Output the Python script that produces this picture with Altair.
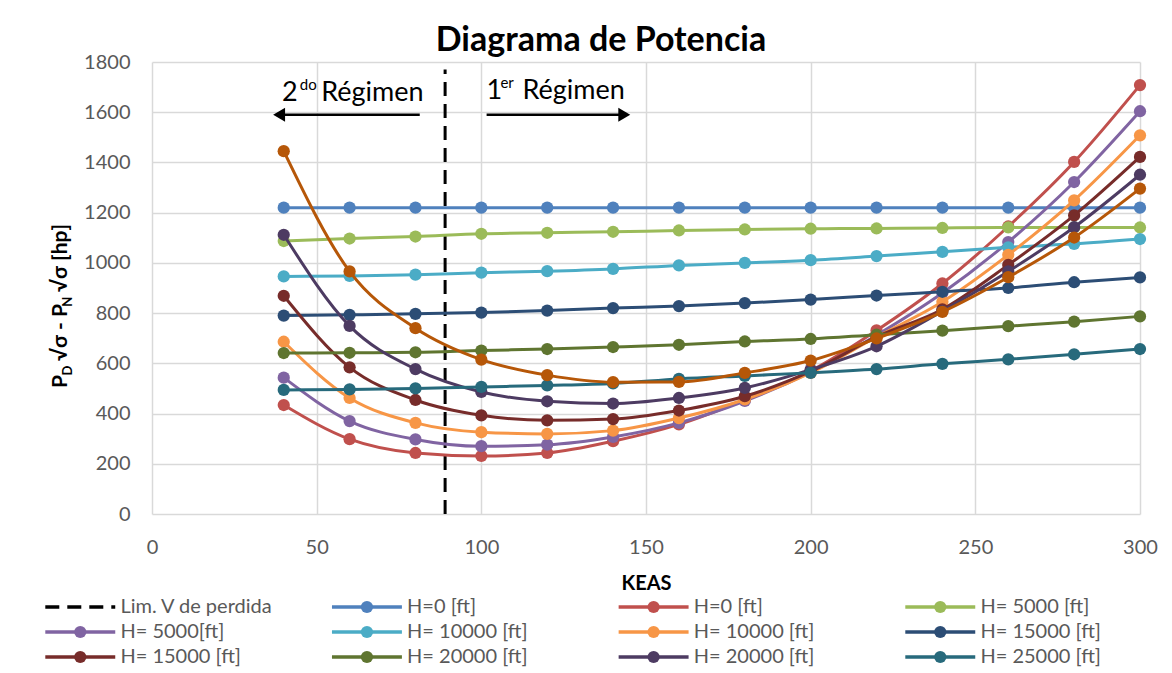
import altair as alt
import pandas as pd

# ---------------- data ----------------
KEAS = [40, 60, 80, 100, 120, 140, 160, 180, 200, 220, 240, 260, 280, 300]

# available power (nearly flat curves)
PA_H0 = [1220, 1220, 1220, 1220, 1220, 1220, 1220, 1220, 1220, 1220, 1220, 1220, 1220, 1220]
PA_H5000 = [1087, 1097, 1105, 1116, 1120, 1124, 1129, 1133, 1136, 1137, 1139, 1141, 1141, 1141]
PA_H10000 = [946, 948, 953, 961, 967, 976, 990, 1000, 1011, 1027, 1044, 1062, 1076, 1095]
PA_H15000 = [790, 793, 797, 802, 810, 820, 828, 840, 854, 870, 885, 900, 923, 942]
PA_H20000 = [641, 642, 644, 651, 657, 665, 674, 687, 697, 714, 730, 748, 766, 787]
PA_H25000 = [494, 496, 500, 506, 512, 520, 538, 550, 562, 577, 598, 616, 636, 657]

# required power (U-shaped curves)
PR_H0 = [434, 298, 243, 231, 243, 290, 357, 455, 570, 731, 918, 1145, 1402, 1708]
PR_H5000 = [543, 370, 297, 270, 276, 307, 363, 450, 565, 712, 880, 1083, 1322, 1604]
PR_H10000 = [686, 462, 363, 326, 319, 332, 382, 456, 562, 705, 845, 1032, 1249, 1508]
PR_H15000 = [869, 584, 454, 393, 373, 378, 412, 469, 568, 705, 815, 992, 1189, 1422]
PR_H20000 = [1112, 749, 577, 486, 449, 440, 462, 502, 575, 668, 808, 966, 1142, 1351]
PR_H25000 = [1445, 966, 740, 615, 553, 525, 526, 562, 611, 699, 805, 943, 1101, 1296]

SERIES_VALUES = [PA_H0, PR_H0, PA_H5000, PR_H5000, PA_H10000, PR_H10000,
                 PA_H15000, PR_H15000, PA_H20000, PR_H20000, PA_H25000, PR_H25000]
SERIES_LABELS = ["H=0 [ft]", "H=0 [ft]", "H= 5000 [ft]", "H= 5000[ft]",
                 "H= 10000 [ft]", "H= 10000 [ft]", "H= 15000 [ft]", "H= 15000 [ft]",
                 "H= 20000 [ft]", "H= 20000 [ft]", "H= 25000 [ft]", "H= 25000 [ft]"]
SERIES_COLORS = ["#4F81BD", "#C0504D", "#9BBB59", "#8064A2", "#4BACC6", "#F79646",
                 "#2C4D75", "#772C2A", "#5F7530", "#4D3B62", "#276A7C", "#B65708"]

STALL_LABEL = "Lim. V de perdida"
STALL_KEAS = 89
STALL_TOP = 1770

X_TICKS = [0, 50, 100, 150, 200, 250, 300]
Y_TICKS = [0, 200, 400, 600, 800, 1000, 1200, 1400, 1600, 1800]

TITLE = "Diagrama de Potencia"
X_TITLE = "KEAS"
# y title pieces: (text, is_subscript, gap before in px)
Y_TITLE_PIECES = [("P", False, 0), ("D", True, 0), ("√σ - P", False, 5), ("N", True, 0),
                  ("√σ [hp]", False, 5)]

# annotations (data coords)
ANN_TEXT = ["2", "do", "Régimen", "1", "er", "Régimen"]
ANN_X = [39.5, 44.9, 51.4, 101.6, 105.8, 112.5]
ANN_Y = [1644, 1688, 1644, 1651, 1695, 1651]
ANN_SUP = [False, True, False, False, True, False]
ARROW_X1 = [81.3, 101.6]
ARROW_X2 = [39.5, 142.5]
ARROW_Y = [1590, 1590]
ARROW_HEAD_X = [38.6, 143.4]
ARROW_SHAPE = ["triangle-left", "triangle-right"]

# ---------------- style ----------------
FONT = "Lato"
W, H = 988, 452
GRID = "#D9D9D9"
LABEL_C = "#595959"

XS = alt.Scale(domain=[0, 300], nice=False, zero=False)
YS = alt.Scale(domain=[0, 1800], nice=False)
XAX = alt.Axis(values=X_TICKS, title=X_TITLE, grid=True, gridColor=GRID, gridWidth=1.5,
               domain=False, ticks=False, labelFont=FONT, labelFontSize=20, labelFlush=False,
               labelColor=LABEL_C, labelPadding=23, titleFont=FONT, titleFontSize=20,
               titleFontWeight="bold", titleColor="black", titlePadding=16)
YAX = alt.Axis(values=Y_TICKS, title=None, grid=True, gridColor=GRID, gridWidth=1.5,
               domain=False, ticks=False, labelFont=FONT, labelFontSize=20, labelFlush=False,
               labelColor=LABEL_C, labelPadding=22, format="d")


def enc(chart, xf="x", yf="y"):
    return chart.encode(x=alt.X(f"{xf}:Q", scale=XS, axis=XAX),
                        y=alt.Y(f"{yf}:Q", scale=YS, axis=YAX))


main_layers = []

# stall speed line
stall_df = pd.DataFrame({"x": [STALL_KEAS], "y": [0], "y2": [STALL_TOP]})
main_layers.append(enc(alt.Chart(stall_df).mark_rule(color="black", strokeWidth=3,
                                                     strokeDash=[14, 8])).encode(y2="y2:Q"))

for vals, col in zip(SERIES_VALUES, SERIES_COLORS):
    df = pd.DataFrame({"x": KEAS, "y": vals})
    base = alt.Chart(df)
    main_layers.append(enc(base.mark_line(color=col, strokeWidth=3, interpolate="monotone")))
    main_layers.append(enc(base.mark_circle(color=col, size=150, opacity=1)))

# annotations
for t, xv, yv, sup in zip(ANN_TEXT, ANN_X, ANN_Y, ANN_SUP):
    d = pd.DataFrame({"x": [xv], "y": [yv], "t": [t]})
    main_layers.append(enc(alt.Chart(d).mark_text(font=FONT, fontSize=15 if sup else 27,
                                                  align="left", baseline="alphabetic",
                                                  color="black")).encode(text="t:N"))
arrow_df = pd.DataFrame({"x": ARROW_X1, "x2": ARROW_X2, "y": ARROW_Y})
main_layers.append(enc(alt.Chart(arrow_df).mark_rule(color="black", strokeWidth=2.5)).encode(x2="x2:Q"))
for hx, hy, shp in zip(ARROW_HEAD_X, ARROW_Y, ARROW_SHAPE):
    d = pd.DataFrame({"x": [hx], "y": [hy]})
    main_layers.append(enc(alt.Chart(d).mark_point(shape=shp, filled=True, color="black",
                                                   opacity=1, size=190)))

# y-axis title built from pieces (with subscripts)
EM = {"P": 0.60, "D": 0.72, "N": 0.76, " ": 0.2, "√": 0.62, "σ": 0.6, "-": 0.36,
      "[": 0.33, "]": 0.33, "h": 0.57, "p": 0.57}
pos = 0.0
one = pd.DataFrame({"a": [0]})
for txt, sub, gap in Y_TITLE_PIECES:
    fs = 13 if sub else 21
    pos += gap
    main_layers.append(
        alt.Chart(one).mark_text(font=FONT, fontSize=fs, fontWeight="bold", angle=270,
                                 align="left", baseline="alphabetic", dx=pos,
                                 dy=5 if sub else 0, color="black")
        .encode(x=alt.value(-85.5), y=alt.value(326), text=alt.value(txt))
    )
    pos += sum(EM.get(c, 0.55) for c in txt) * fs

main = alt.layer(*main_layers)

# ---------------- manual legend ----------------
LEG_LABELS = [STALL_LABEL] + SERIES_LABELS[:11]
LEG_IDS = ["lim"] + [f"s{i}" for i in range(11)]
LEG_COLORS = ["#000000"] + SERIES_COLORS[:11]
leg_df = pd.DataFrame({"i": list(range(12)), "label": LEG_LABELS, "sid": LEG_IDS})
LX = alt.Scale(domain=[0, 3], range=[-106.7, 753.3])
LY = alt.Scale(domain=[0, 2], range=[545, 595])
CS = alt.Scale(domain=LEG_IDS, range=LEG_COLORS)

lbase = alt.Chart(leg_df).transform_calculate(
    row="floor(datum.i / 4)",
    x1="datum.i % 4", x2="datum.i % 4 + 0.244", xc="datum.i % 4 + 0.122",
    xt="datum.i % 4 + 0.262")
ly = alt.Y("row:Q", scale=LY, axis=None)
leg_sym_line = lbase.transform_filter("datum.i > 0").mark_rule(strokeWidth=3.5).encode(
    x=alt.X("x1:Q", scale=LX, axis=None), x2="x2:Q", y=ly,
    color=alt.Color("sid:N", scale=CS, legend=None))
leg_sym_dash = lbase.transform_filter("datum.i == 0").mark_rule(
    strokeWidth=3.5, strokeDash=[14, 8], color="black").encode(
    x=alt.X("x1:Q", scale=LX, axis=None), x2="x2:Q", y=ly)
leg_sym_pt = lbase.transform_filter("datum.i > 0").mark_circle(size=150, opacity=1).encode(
    x=alt.X("xc:Q", scale=LX, axis=None), y=ly,
    color=alt.Color("sid:N", scale=CS, legend=None))
leg_text = lbase.mark_text(font=FONT, fontSize=20, align="left", baseline="middle",
                           color=LABEL_C).encode(
    x=alt.X("xt:Q", scale=LX, axis=None), y=ly, text="label:N")
legend = alt.layer(leg_sym_dash, leg_sym_line, leg_sym_pt, leg_text)

chart = alt.layer(main, legend).resolve_scale(x="independent", y="independent").properties(
    width=W, height=H,
    title=alt.TitleParams(TITLE, font=FONT, fontSize=34, fontWeight="bold", color="black",
                          anchor="middle", frame="group", dx=-45, offset=-6),
    padding={"left": 35, "top": 16, "right": 5, "bottom": 0},
).configure_view(stroke=None)

chart.save("out.html", embed_options={"renderer": "svg", "actions": False})
